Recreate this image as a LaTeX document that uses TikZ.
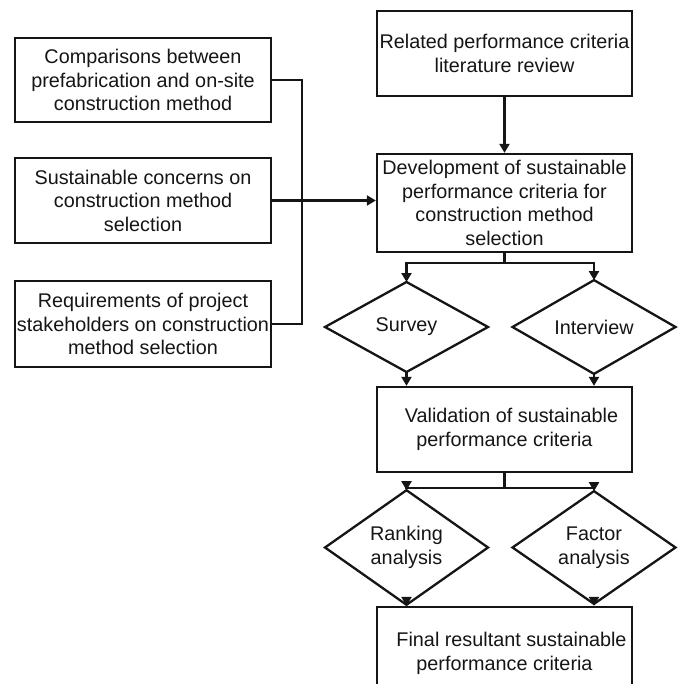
\documentclass[tikz,border=0pt]{standalone}
\usepackage{fontspec}
\setmainfont{Liberation Sans}
\usetikzlibrary{shapes.geometric, arrows.meta, calc}
\definecolor{ink}{HTML}{151515}
\tikzset{
    arrow/.style={-{Triangle[length=9pt,width=10pt]},line width=2.1pt,ink},
    link/.style={line width=2.1pt,ink},
    box/.style={draw=ink,line width=2.3pt,align=center,inner sep=0pt,
        font=\fontsize{19.8pt}{23.5pt}\selectfont,text=ink},
    decision/.style={draw=ink,line width=2.3pt,shape=diamond,align=center,inner sep=0pt,
        outer sep=0pt,font=\fontsize{19.8pt}{23.5pt}\selectfont,text=ink}
}
\begin{document}
\begin{tikzpicture}[x=1pt,y=-1pt]
			\useasboundingbox (0,0) rectangle (681,684);
			\clip (0,0) rectangle (681,684);
			\node[box, minimum width=256pt, minimum height=84pt] (cmp) at (143,80) {Comparisons between\\prefabrication and on-site\\construction method};
			\node[box, minimum width=256pt, minimum height=85pt] (sus) at (143,200.5) {Sustainable concerns on\\construction method\\selection};
			\node[box, minimum width=256pt, minimum height=86pt] (req) at (143,324) {Requirements of project\\stakeholders on construction\\method selection};
			\node[box, minimum width=255pt, minimum height=85pt] (rel) at (504.5,53.5) {Related performance criteria\\literature review};
			\node[box, minimum width=255pt, minimum height=98pt] (dev) at (504.5,203) {Development of sustainable\\performance criteria for\\construction method\\selection};
			\node[decision, minimum width=163pt, minimum height=90pt] (sur) at (406.5,327) {Survey};
			\node[decision, minimum width=163pt, minimum height=90pt] (int) at (594,327) {Interview};
			\node[box, minimum width=255pt, minimum height=85pt] (val) at (504.5,429.5) {\hspace*{14pt}Validation of sustainable\\performance criteria};
			\node[decision, minimum width=163pt, minimum height=91pt] (rnk) at (406.5,547.5) {Ranking\\analysis};
			\node[decision, minimum width=163pt, minimum height=91pt] (fac) at (594,547.5) {Factor\\analysis};
			\node[box, minimum width=255pt, minimum height=93pt] (fin) at (504.5,653.5) {\hspace*{14pt}Final resultant sustainable\\performance criteria};
			\coordinate (bus) at (302,0);
			\draw[link] (cmp.east) -- (cmp.east -| bus) -- (req.east -| bus) -- (req.east);
			\draw[arrow] (sus.east) -- (sus.east -| dev.west);
			\draw[arrow] (rel.south) -- (dev.north);
			\draw[link] (dev.south) -- ++(0,10) coordinate (split1);
			\draw[arrow] (split1) -| (sur.north);
			\draw[arrow] (split1) -| (int.north);
			\draw[arrow] (sur.south) -- (sur.south |- val.north);
			\draw[arrow] (int.south) -- (int.south |- val.north);
			\draw[link] (val.south) -- ++(0,15) coordinate (split2);
			\draw[arrow] (split2) -| (rnk.north);
			\draw[arrow] (split2) -| (fac.north);
			\draw[arrow] (rnk.south) -- (rnk.south |- fin.north);
			\draw[arrow] (fac.south) -- (fac.south |- fin.north);
		\end{tikzpicture}
\end{document}
